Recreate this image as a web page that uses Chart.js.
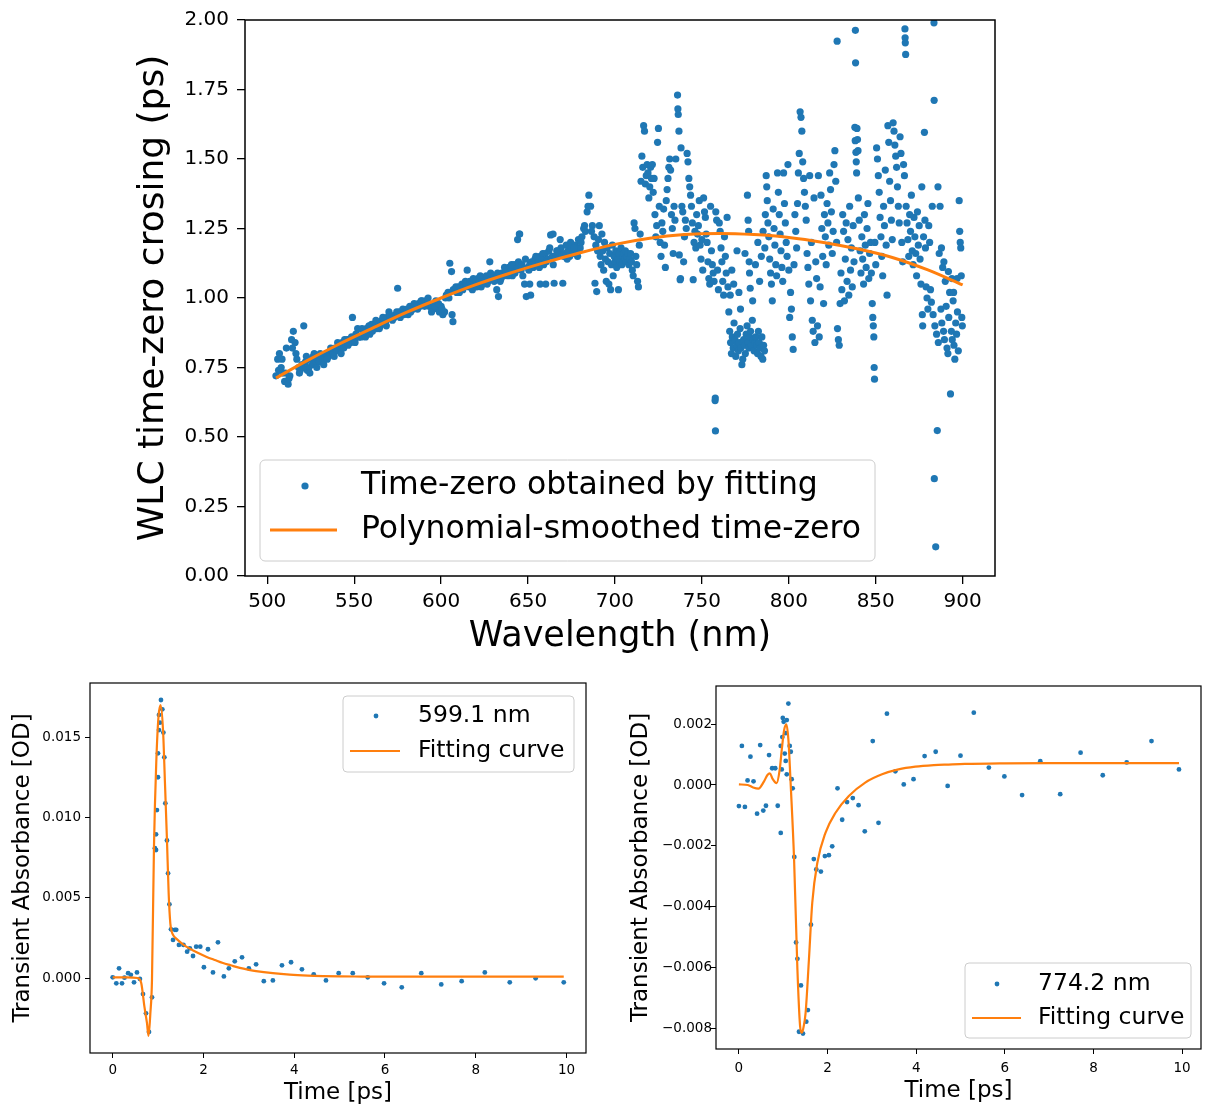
<!DOCTYPE html>
<html><head><meta charset="utf-8">
<script src="https://cdn.jsdelivr.net/npm/chart.js@4/dist/chart.umd.min.js"></script>
<style>
html,body{margin:0;padding:0;background:#fff;}
#wrap{position:relative;width:1205px;height:1107px;overflow:hidden;background:#fff;}
canvas{position:absolute;}
</style></head><body>
<div id="wrap">
<canvas id="top" width="1205" height="660" style="left:0;top:0"></canvas>
<canvas id="bl" width="600" height="447" style="left:0;top:660px"></canvas>
<canvas id="br" width="605" height="447" style="left:600px;top:660px"></canvas>
</div>
<script>
// ---------------- DATA: top panel (WLC time-zero crossing) ----------------
const wlBand = [
505,506,507,508,509,510,511,512,513,514,
515,516,517,518,519,520,521,522,523,524,
525,526,527,528,529,530,531,532,533,534,
535,536,537,538,539,540,541,542,543,544,
545,546,547,548,549,550,551,552,553,554,
555,556,557,558,559,560,561,562,563,564,
565,566,567,568,569,570,571,572,573,574,
575,576,577,578,579,580,581,582,583,584,
585,586,587,588,589,590,591,592,593,594,
595,596,597,598,599,600,601,602,603,604,
605,606,607,608,609,610,611,612,613,614,
615,616,617,618,619,620,621,622,623,624,
625,626,627,628,629,630,631,632,633,634,
635,636,637,638,639,640,641,642,643,644,
645,646,647,648,649,650,651,652,653,654,
655,656,657,658,659,660,661,662,663,664,
665,666,667,668,669,670,671,672,673,674,
675,676,677,678,679,680,681,682,683,684,
685,686,687,688,689,690];
const t0Band = [
0.72,0.78,0.80,0.75,0.73,0.70,0.82,0.69,0.72,0.85,
0.88,0.84,0.78,0.75,0.74,0.76,0.90,0.77,0.74,0.75,
0.78,0.76,0.80,0.77,0.78,0.77,0.79,0.78,0.78,0.80,
0.79,0.80,0.81,0.80,0.82,0.81,0.83,0.82,0.84,0.82,
0.84,0.85,0.85,0.84,0.93,0.85,0.87,0.89,0.86,0.86,
0.88,0.87,0.89,0.88,0.87,0.905,0.89,0.90,0.89,0.91,
0.90,0.92,0.91,0.91,0.93,0.95,0.93,0.92,0.93,0.94,
1.035,0.95,0.94,0.96,0.95,0.95,0.94,0.97,0.96,0.96,
0.97,0.97,0.98,0.97,0.99,0.98,0.99,0.98,0.97,0.97,
0.96,0.98,0.99,0.96,0.95,0.97,0.94,0.95,1.01,1.02,
1.125,1.095,1.03,1.03,1.02,1.04,1.03,1.05,1.04,1.06,
1.10,1.04,1.05,1.03,1.06,1.05,1.07,1.06,1.04,1.05,
1.07,1.08,1.06,1.13,1.07,1.08,1.07,1.03,1.005,1.06,
1.09,1.08,1.10,1.09,1.11,1.10,1.08,1.12,1.11,1.21,
1.23,1.10,1.08,1.05,1.005,1.11,1.12,1.13,1.11,1.14,
1.12,1.13,1.15,1.14,1.12,1.16,1.14,1.17,1.227,1.15,
1.053,1.15,1.17,1.16,1.18,1.053,1.16,1.19,1.17,1.15,
1.18,1.16,1.19,1.17,1.21,1.18,1.22,1.25,1.24,1.31,
1.37,1.33,1.26,1.22,1.19,1.17];

const wlBandExtra = [
506.5,508.5,510.5,512.5,514.5,516.5,518.5,520.5,522.5,524.5,
526.5,528.5,530.5,532.5,534.5,536.5,538.5,540.5,542.5,544.5,
546.5,548.5,550.5,552.5,554.5,556.5,558.5,560.5,562.5,564.5,
566.5,568.5,570.5,572.5,574.5,576.5,578.5,580.5,582.5,584.5,
586.5,588.5,590.5,592.5,594.5,596.5,598.5,600.5,602.5,604.5,
606.3,606.8,608.5,610.5,612.5,614.5,616.5,618.5,620.5,622.5,
624.5,626.5,628.5,630.5,632.5,634.5,636.5,638.5,640.5,642.5,
644.5,646.5,648.5,650.5,652.5,654.5,656.5,658.5,660.5,662.5,
664.5,666.5,668.5,670.5,672.5,674.5,676.5,678.5,680.5,682.5,
684.5,686.5,688.5,651,651.5,657,660.2,645.2,664.4,689.5];
const t0BandExtra = [
0.74,0.78,0.73,0.71,0.82,0.80,0.73,0.75,0.79,0.73,
0.79,0.75,0.80,0.76,0.78,0.82,0.79,0.84,0.80,0.85,
0.83,0.86,0.84,0.86,0.89,0.86,0.90,0.88,0.92,0.89,
0.93,0.90,0.94,0.93,0.95,0.93,0.94,0.96,0.95,0.98,
0.96,0.99,0.97,1.00,0.95,0.97,0.98,0.96,1.00,1.00,
0.94,0.915,1.04,1.02,1.03,1.05,1.06,1.07,1.04,1.08,
1.06,1.05,1.09,1.06,1.09,1.07,1.11,1.08,1.12,1.09,
1.13,1.12,1.14,1.10,1.12,1.15,1.11,1.16,1.13,1.18,
1.12,1.17,1.21,1.15,1.14,1.20,1.18,1.15,1.20,1.26,
1.33,1.24,1.053,1.05,1.01,1.05,1.05,1.23,1.23,1.023];

const wlScatter690 = [
690.5,691,691.5,692,692.5,693,693.5,694,694.5,695,
695.5,696,696.5,697,697.5,698,698.5,699,699.5,700,
700.5,701,701.5,702,702.5,703,703.5,704,704.5,705,
705.5,706,706.5,707,707.5,708,708.5,709,709.5,710,
710.5,711,711.5,712,712.5,713,713.5,714,714.5,715,
715.5,716,716.5,717,717.5,718,718.5,719,719.5,720,
720.5,721,721.5,722,722.5,723,723.5,724,724.5,725,
725.5,726,726.5,727,727.5,728,728.5,729,729.5,730,
730.5,731,731.5,732,732.5,733,733.5,734,734.5,735,
736,736.2,736.4,736.8,737,737.5,737.7,738,738.5,739,
739.5,740];
const t0Scatter690 = [
1.21,1.26,1.15,1.12,1.23,1.17,1.10,1.20,1.14,1.06,
1.18,1.13,1.05,1.16,1.03,1.12,1.19,1.08,1.15,1.13,
1.17,1.11,1.14,1.03,1.16,1.13,1.18,1.12,1.15,1.16,
1.14,1.17,1.13,1.15,1.16,1.12,1.14,1.16,1.13,1.10,
1.08,1.27,1.25,1.15,1.12,1.06,1.04,1.19,1.23,1.42,
1.51,1.47,1.62,1.60,1.41,1.44,1.48,1.45,1.36,1.40,
1.47,1.43,1.48,1.38,1.43,1.30,1.22,1.26,1.56,1.61,
1.33,1.20,1.15,1.27,1.24,1.32,1.19,1.11,1.35,1.39,
1.43,1.47,1.50,1.46,1.30,1.25,1.16,1.33,1.28,1.50,
1.73,1.68,1.66,1.60,1.155,1.066,1.07,1.54,1.33,1.31,
1.13,1.22];

const wlScatter740 = [
740.5,741,741.5,742,742.5,743,743.5,744,744.5,745,
745.5,746,746.5,747,747.5,748,748.5,749,749.5,750,
750.5,751,751.5,752,752.5,753,753.5,754,754.5,755,
755.5,756,756.5,757,757.6,757.7,757.8,758,758.5,759,
759.5,760,760.5,761,761.5,762,762.5,763,763.5,764,
764.5,765,765.5,766,766.5,767,767.5,768,768.5,769,
769.5,770,770.5,771,771.5,772,772.5,773,773.5,774,
774.5,775,775.5,776,776.5,777,777.5,778,778.5,779,
779.5,780,780.5,781,781.5,782,782.5,783,783.5,784,
784.5,785,785.5,786,766.3,767.2,768.3,770.2,771.3,772.2,
774.8,776.2,776.6,776.9,777.2,777.4,777.8,779.2,780.8,782.2,
783.2,784.2,785.2,786.2,786.5,787,787.3,787.6,788,788.5,
789,789.5,790];
const t0Scatter740 = [
1.28,1.25,1.52,1.49,1.43,1.40,1.37,1.33,1.27,1.066,
1.20,1.24,1.18,1.30,1.23,1.26,1.35,1.19,1.14,1.21,
1.10,1.36,1.31,1.29,1.23,1.20,1.13,1.07,1.05,1.33,
1.17,1.12,1.09,1.06,0.631,0.64,0.522,1.31,1.28,1.10,
1.03,1.27,1.24,1.18,1.13,1.06,1.01,1.22,1.15,1.09,
1.29,1.04,0.95,0.88,0.84,0.80,0.86,0.82,0.91,0.85,
0.79,0.83,0.87,0.81,0.84,0.89,0.82,0.76,0.78,0.85,
0.83,0.80,0.87,0.90,0.84,0.82,0.86,0.88,0.83,0.92,
0.85,0.81,0.84,0.86,0.83,0.80,0.88,0.84,0.82,0.79,
0.86,0.78,0.83,0.81,1.01,1.10,1.05,1.17,1.02,0.96,
1.16,1.37,1.28,1.24,1.13,1.09,1.035,0.99,1.12,1.20,
1.06,1.15,1.24,1.18,1.30,1.44,1.40,1.35,1.27,1.22,
1.14,1.09,1.05];

const wlScatter790 = [
790.5,791,791.5,792,792.5,793,793.5,794,794.5,795,
795.5,796,796.5,797,797.5,798,798.5,799,799.5,800,
800.5,801,801.5,802,802.5,803,803.5,804,804.5,805,
805.5,806,806.5,807,807.5,808,808.5,809,809.5,810,
810.5,811,811.5,812,812.5,813,813.5,814,814.5,815,
815.5,816,816.5,817,817.5,818,818.5,819,819.5,820,
820.5,821,821.5,822,822.5,823,823.5,824,824.5,825,
825.5,826,826.5,827,827.5,827.8,828,828.5,829,829.5,
830,830.5,831,831.5,832,832.5,833,833.5,834,834.5,
835,835.5,836,836.5,837,837.5,838,838.2,838.3,838.4,
838.6,838.8,839,839.2,839.5,839.8,840,840.5,841,841.5,
842,842.5,843,843.5,844,844.5,845,845.5,846,846.5,
847,847.5,848,848.3,848.6,848.9,849.1,849.3,849.5,850];
const t0Scatter790 = [
0.99,1.32,1.25,1.19,1.12,1.08,1.45,1.38,1.30,1.23,
1.17,1.11,1.06,1.45,1.34,1.27,1.20,1.15,1.48,1.10,
0.93,1.02,0.96,0.86,0.815,1.12,1.30,1.24,1.18,1.34,
1.45,1.52,1.67,1.65,1.60,1.49,1.43,1.38,1.33,1.28,
1.16,1.11,1.05,1.44,0.99,1.20,0.92,0.88,1.36,0.84,
1.13,1.07,0.90,1.44,0.86,1.04,1.37,1.25,1.15,0.98,
1.30,1.22,1.12,1.34,1.27,1.19,1.45,1.39,1.31,1.16,
1.24,1.48,1.53,1.42,1.20,1.924,0.89,0.85,0.83,0.98,
1.09,1.03,1.30,1.24,0.99,1.14,1.27,1.06,1.21,1.01,
1.33,1.10,1.18,1.04,1.26,1.13,1.614,1.566,1.963,1.846,
1.524,1.49,1.45,1.61,1.57,1.53,1.36,1.28,1.17,1.09,
1.22,1.14,1.05,1.30,1.19,1.11,1.25,1.34,1.07,1.16,
1.20,1.09,0.98,0.93,0.90,0.86,0.75,0.708,1.20,1.12];

const wlScatter850 = [
850.5,851,851.5,852,852.5,853,853.5,854,854.5,855,
855.5,856,856.5,857,857.5,858,858.5,859,859.5,860,
860.5,861,861.5,862,862.5,863,863.5,864,864.5,865,
865.5,866,866.5,866.8,866.9,867,867.2,867.5,868,868.5,
869,869.5,870,870.5,871,871.5,872,872.5,873,873.5,
874,874.5,875,875.5,876,876.5,876.8,877,877.5,878,
878.3,878.6,879,879.5,880,880.5,881,881.5,882,882.5,
883,883.5,883.6,883.7,884,884.5,885,885.4,885.8,886,
886.5,887,887.5,888,888.5,889,889.5,890,890.5,891,
891.5,892,892.5,893,893.5,894,894.5,895,895.5,896,
896.5,897,897.5,898,898.3,898.6,898.9,899.2,899.5,899.8,
887.8,889.2,891.8,893.8,894.8,896.8];
const t0Scatter850 = [
1.54,1.50,1.44,1.38,1.29,1.22,1.15,1.08,1.33,1.26,
1.46,1.19,1.01,1.62,1.56,1.42,1.35,1.28,1.21,1.63,
1.60,1.55,1.51,1.47,1.40,1.33,1.27,1.58,1.52,1.20,
1.13,1.48,1.44,1.968,1.936,1.918,1.876,1.33,1.27,1.21,
1.15,1.30,1.24,1.37,1.17,1.12,1.29,1.22,1.16,1.08,
1.31,1.19,1.26,1.14,1.05,1.40,0.94,0.90,1.22,1.596,
1.28,1.18,1.04,1.00,0.96,1.26,1.20,1.03,0.985,1.33,
0.94,1.99,1.711,0.35,0.90,0.105,0.87,0.523,1.40,0.84,
1.16,1.33,0.96,0.91,1.11,0.88,0.85,1.06,0.97,0.82,
0.80,0.93,1.02,0.655,0.88,0.85,0.99,0.83,0.78,0.91,
0.87,0.95,0.81,1.35,1.24,1.20,1.18,1.08,0.93,0.90,
1.18,1.13,1.095,1.07,1.02,1.07];

// polynomial-smoothed curve
const polyWl = [505,520,540,560,580,600,620,640,660,680,700,720,740,760,780,800,820,840,860,880,900];
const polyT0 = [0.712,0.765,0.83,0.89,0.948,1.00,1.048,1.09,1.128,1.163,1.193,1.215,1.228,1.232,1.228,1.218,1.200,1.176,1.145,1.101,1.047];

const wavelengthTicks = [500,550,600,650,700,750,800,850,900];
const timeZeroTicks = [0,0.25,0.5,0.75,1,1.25,1.5,1.75,2];

// ---------------- DATA: 599.1 nm kinetic trace ----------------
const time599 = [0.0,0.08,0.14,0.205,0.26,0.34,0.40,0.47,0.535,0.60,
0.668,0.734,0.80,0.866,0.93,0.955,0.955,0.975,0.998,0.998,
1.02,1.02,1.04,1.064,1.094,1.117,1.138,1.16,1.196,1.22,
1.25,1.285,1.33,1.37,1.40,1.46,1.56,1.64,1.70,1.77,
1.84,1.93,2.01,2.10,2.21,2.32,2.45,2.56,2.69,2.85,
3.00,3.16,3.33,3.53,3.73,3.93,4.17,4.43,4.70,4.98,
5.29,5.62,5.98,6.37,6.80,7.24,7.69,8.20,8.75,9.32,9.94];
const abs599 = [0.00004,-0.00033,0.0006,-0.00033,0.00002,0.0003,0.0002,-0.00027,0.00035,-0.00006,
-0.0010,-0.0022,-0.00336,-0.0012,0.00808,0.00797,0.00895,0.01046,0.0125,0.01399,
0.01544,0.01638,0.0159,0.01731,0.01673,0.01528,0.01374,0.01088,0.00857,0.00652,
0.00459,0.00303,0.00237,0.0030,0.0030,0.00206,0.00206,0.00164,0.00185,0.00137,
0.00195,0.00195,0.00067,0.00179,0.00035,0.00222,0.0001,0.0006,0.00104,0.00129,
0.0006,0.00085,-0.0002,-0.00015,0.00079,0.00098,0.00054,0.00023,-0.00015,0.0003,
0.0003,0.00004,-0.00033,-0.00058,0.0003,-0.0004,-0.0002,0.00035,-0.00027,-0.00002,-0.00027];
const fitTime599 = [0,0.3,0.55,0.63,0.70,0.755,0.79,0.83,0.866,0.91,0.96,1.01,1.057,1.11,1.15,1.196,1.233,1.27,1.30,1.35,1.40,1.55,1.70,1.85,2.06,2.25,2.43,2.6,2.8,3.0,3.16,3.53,3.9,4.3,4.63,5.0,5.5,6,7,8,9,9.94];
const fit599 = [0.00004,0.00004,0.0000,-0.00033,-0.0018,-0.0028,-0.0036,-0.0022,-0.0001,0.0082,0.0134,0.0163,0.0170,0.0154,0.0123,0.0086,0.0053,0.0034,0.0029,0.0026,0.00245,0.0021,0.00183,0.0016,0.00133,0.00112,0.00093,0.00079,0.00063,0.00051,0.00043,0.0003,0.00021,0.00015,0.00012,0.0001,0.00009,0.00008,0.00008,0.00008,0.00008,0.00008];
const ticksTime = [0,2,4,6,8,10];
const ticksAbs599 = [0,0.005,0.010,0.015];

// ---------------- DATA: 774.2 nm kinetic trace ----------------
const time774 = [0.0,0.067,0.135,0.195,0.26,0.33,0.41,0.48,0.55,0.61,
0.68,0.75,0.82,0.876,0.944,0.944,0.966,0.98,0.99,1.01,
1.034,1.056,1.056,1.08,1.08,1.116,1.146,1.17,1.19,1.213,
1.25,1.29,1.32,1.356,1.40,1.446,1.52,1.557,1.625,1.69,
1.746,1.85,1.94,2.03,2.105,2.225,2.33,2.44,2.57,2.70,
2.84,3.02,3.15,3.34,3.53,3.72,3.94,4.19,4.44,4.71,
5.0,5.30,5.64,5.99,6.39,6.80,7.25,7.71,8.21,8.75,9.31,9.93];
const abs774 = [-0.00069,0.00128,-0.00072,0.00015,0.00093,0.00012,-0.00094,0.00131,-0.00084,-0.00068,
0.00098,0.00055,0.00055,-0.00068,0.00128,-0.00157,0.00051,0.00157,0.0022,0.00207,
0.00103,0.00079,0.0017,0.00035,0.00213,0.00267,0.00128,0.00109,0.00019,-0.00011,
-0.00236,-0.00516,-0.0057,-0.00809,-0.00657,-0.00815,-0.00776,-0.00738,-0.00458,-0.00243,
-0.00277,-0.00284,-0.00233,-0.0023,-0.00201,-0.00011,-0.00114,-0.00056,-0.00043,-0.00066,
-0.00152,0.00144,-0.00124,0.00234,0.00045,0.00002,0.00019,0.00095,0.00109,-0.00003,
0.00096,0.00237,0.00057,0.00028,-0.00033,0.00078,-0.0003,0.00106,0.00032,0.00074,0.00144,0.00051];
const fitTime774 = [0,0.2,0.32,0.44,0.56,0.64,0.70,0.76,0.85,0.92,0.97,1.02,1.07,1.116,1.17,1.245,1.32,1.38,1.415,1.45,1.505,1.58,1.655,1.77,1.955,2.18,2.48,2.85,3.23,3.60,3.98,4.4,4.73,5.1,6,7,8,9,9.93];
const fit774 = [0.00002,0.0,-0.00008,-0.00012,0.0001,0.00032,0.00038,0.0002,0.00006,0.0005,0.0012,0.0018,0.00199,0.0015,-0.00003,-0.00244,-0.00604,-0.0079,-0.00812,-0.0080,-0.00747,-0.00572,-0.00386,-0.00255,-0.00156,-0.00091,-0.00036,0.00008,0.00035,0.00051,0.0006,0.00065,0.00067,0.00069,0.00071,0.00072,0.00072,0.00072,0.00072];
const ticksAbs774 = [-0.008,-0.006,-0.004,-0.002,0,0.002];

// ---------------- helpers ----------------
Chart.defaults.font.family = "'DejaVu Sans', 'Liberation Sans', sans-serif";
Chart.defaults.color = '#000';
const BLUE = '#1f77b4', ORANGE = '#ff7f0e';
const FONT = "'DejaVu Sans', 'Liberation Sans', sans-serif";
function pairs(xs, ys){ return xs.map((x,i)=>({x:x, y:ys[i]})); }
function fixedTicks(values){ return function(s){ s.ticks = values.map(v => ({value:v})); }; }
function fmt(d){ return function(v){ return (v < -1e-12 ? '\u2212' : '') + Math.abs(v).toFixed(d); }; }

const framePlugin = { id:'frame', afterDraw(chart, args, o){
  const a = chart.chartArea, c = chart.ctx; c.save();
  c.strokeStyle = '#000'; c.lineWidth = o.width || 1.2;
  c.strokeRect(a.left, a.top, a.right - a.left, a.bottom - a.top);
  c.restore(); } };

const boxLegend = { id:'boxLegend', afterDraw(chart, args, o){
  const c = chart.ctx; c.save();
  c.beginPath();
  if (c.roundRect) c.roundRect(o.left, o.top, o.width, o.height, o.radius); else c.rect(o.left, o.top, o.width, o.height);
  c.fillStyle = 'rgba(255,255,255,0.8)'; c.fill();
  c.strokeStyle = '#cccccc'; c.lineWidth = 1; c.stroke();
  c.font = o.fontSize + 'px ' + FONT; c.textBaseline = 'middle'; c.textAlign = 'left';
  chart.data.datasets.forEach((ds, i) => {
    const y = i === 0 ? o.row0 : o.row1;
    if (ds.showLine) {
      c.beginPath(); c.moveTo(o.lineFrom, y); c.lineTo(o.lineTo, y);
      c.strokeStyle = ds.borderColor; c.lineWidth = ds.borderWidth; c.stroke();
    } else {
      c.beginPath(); c.arc(o.markerX, y, ds.pointRadius, 0, Math.PI*2);
      c.fillStyle = ds.backgroundColor; c.fill();
    }
    c.fillStyle = '#000'; c.fillText(ds.label, o.textX, y);
  });
  c.restore(); } };

function axis(o){
  return {
    type:'linear', min:o.min, max:o.max,
    afterBuildTicks: fixedTicks(o.ticks),
    afterFit: o.afterFit,
    ticks:{ font:{size:o.tickSize}, color:'#000', padding:o.tickPad, autoSkip:false, maxRotation:0, callback:o.fmt },
    grid:{ drawOnChartArea:false, drawTicks:true, color:'#000', tickLength:o.tickLen, lineWidth:o.tickWidth },
    border:{ display:false },
    title:{ display:true, text:o.title, color:'#000', font:{size:o.titleSize, lineHeight:1.2}, padding:o.titlePad }
  };
}

// ---------------- top chart ----------------
const wlAll = [].concat(wlBand, wlBandExtra, wlScatter690, wlScatter740, wlScatter790, wlScatter850);
const t0All = [].concat(t0Band, t0BandExtra, t0Scatter690, t0Scatter740, t0Scatter790, t0Scatter850);

new Chart(document.getElementById('top'), {
  type:'scatter',
  data:{ datasets:[
    { label:'Time-zero obtained by fitting', data:pairs(wlAll, t0All), backgroundColor:BLUE, borderColor:BLUE,
      pointRadius:3.6, pointBorderWidth:0, pointHoverRadius:3.6, order:1 },
    { label:'Polynomial-smoothed time-zero', data:pairs(polyWl, polyT0), showLine:true, borderColor:ORANGE, backgroundColor:ORANGE,
      borderWidth:3, pointRadius:0, cubicInterpolationMode:'monotone', order:0 }
  ]},
  options:{
    responsive:false, animation:false, devicePixelRatio:1, events:[],
    layout:{ padding:{ left:0, top:17, right:210, bottom:0 } },
    plugins:{ legend:{display:false}, tooltip:{enabled:false}, frame:{width:1.5},
      boxLegend:{ left:260, top:460, width:615, height:101, radius:5, fontSize:31.5,
        row0:486, row1:530, markerX:305, lineFrom:270, lineTo:337, textX:361 } },
    scales:{
      x: axis({ min:487.2, max:918.6, ticks:wavelengthTicks, tickSize:20, tickPad:6, tickLen:8, tickWidth:1.3,
        fmt:v => String(v), title:'Wavelength (nm)', titleSize:35, titlePad:{top:0,bottom:2},
        afterFit:s => { s.height = 84; } }),
      y: axis({ min:0, max:2, ticks:timeZeroTicks, tickSize:20, tickPad:8, tickLen:8, tickWidth:1.3,
        fmt:fmt(2), title:'WLC time-zero crosing (ps)', titleSize:36, titlePad:{top:132,bottom:0},
        afterFit:s => { s.width = 245; } })
    }
  },
  plugins:[framePlugin, boxLegend]
});

// ---------------- bottom-left chart (599.1 nm) ----------------
new Chart(document.getElementById('bl'), {
  type:'scatter',
  data:{ datasets:[
    { label:'599.1 nm', data:pairs(time599, abs599), backgroundColor:BLUE, borderColor:BLUE,
      pointRadius:2.4, pointBorderWidth:0, order:1 },
    { label:'Fitting curve', data:pairs(fitTime599, fit599), showLine:true, borderColor:ORANGE, backgroundColor:ORANGE,
      borderWidth:2.2, pointRadius:0, cubicInterpolationMode:'monotone', order:0 }
  ]},
  options:{
    responsive:false, animation:false, devicePixelRatio:1, events:[],
    layout:{ padding:{ left:0, top:23, right:14, bottom:0 } },
    plugins:{ legend:{display:false}, tooltip:{enabled:false}, frame:{width:1.2},
      boxLegend:{ left:343, top:36, width:231, height:76, radius:4, fontSize:23.5,
        row0:56, row1:91, markerX:376, lineFrom:350, lineTo:400, textX:418 } },
    scales:{
      x: axis({ min:-0.5, max:10.43, ticks:ticksTime, tickSize:13.5, tickPad:4, tickLen:5, tickWidth:1,
        fmt:v => String(v), title:'Time [ps]', titleSize:23, titlePad:{top:0,bottom:0},
        afterFit:s => { s.height = 54; } }),
      y: axis({ min:-0.00467, max:0.01837, ticks:ticksAbs599, tickSize:13.5, tickPad:4, tickLen:5, tickWidth:1,
        fmt:fmt(3), title:'Transient Absorbance [OD]', titleSize:23, titlePad:{top:9,bottom:0},
        afterFit:s => { s.width = 90; } })
    }
  },
  plugins:[framePlugin, boxLegend]
});

// ---------------- bottom-right chart (774.2 nm) ----------------
new Chart(document.getElementById('br'), {
  type:'scatter',
  data:{ datasets:[
    { label:'774.2 nm', data:pairs(time774, abs774), backgroundColor:BLUE, borderColor:BLUE,
      pointRadius:2.4, pointBorderWidth:0, order:1 },
    { label:'Fitting curve', data:pairs(fitTime774, fit774), showLine:true, borderColor:ORANGE, backgroundColor:ORANGE,
      borderWidth:2.2, pointRadius:0, cubicInterpolationMode:'monotone', order:0 }
  ]},
  options:{
    responsive:false, animation:false, devicePixelRatio:1, events:[],
    layout:{ padding:{ left:0, top:26, right:2, bottom:0 } },
    plugins:{ legend:{display:false}, tooltip:{enabled:false}, frame:{width:1.2},
      boxLegend:{ left:365, top:303, width:226, height:75, radius:4, fontSize:23.5,
        row0:324, row1:358, markerX:397, lineFrom:372, lineTo:421, textX:438 } },
    scales:{
      x: axis({ min:-0.517, max:10.427, ticks:ticksTime, tickSize:13.5, tickPad:6, tickLen:5, tickWidth:1,
        fmt:v => String(v), title:'Time [ps]', titleSize:23, titlePad:{top:0,bottom:2},
        afterFit:s => { s.height = 58; } }),
      y: axis({ min:-0.008656, max:0.003246, ticks:ticksAbs774, tickSize:13.5, tickPad:-1, tickLen:5, tickWidth:1,
        fmt:fmt(3), title:'Transient Absorbance [OD]', titleSize:23, titlePad:{top:27,bottom:0},
        afterFit:s => { s.width = 116; } })
    }
  },
  plugins:[framePlugin, boxLegend]
});
</script>
</body></html>
